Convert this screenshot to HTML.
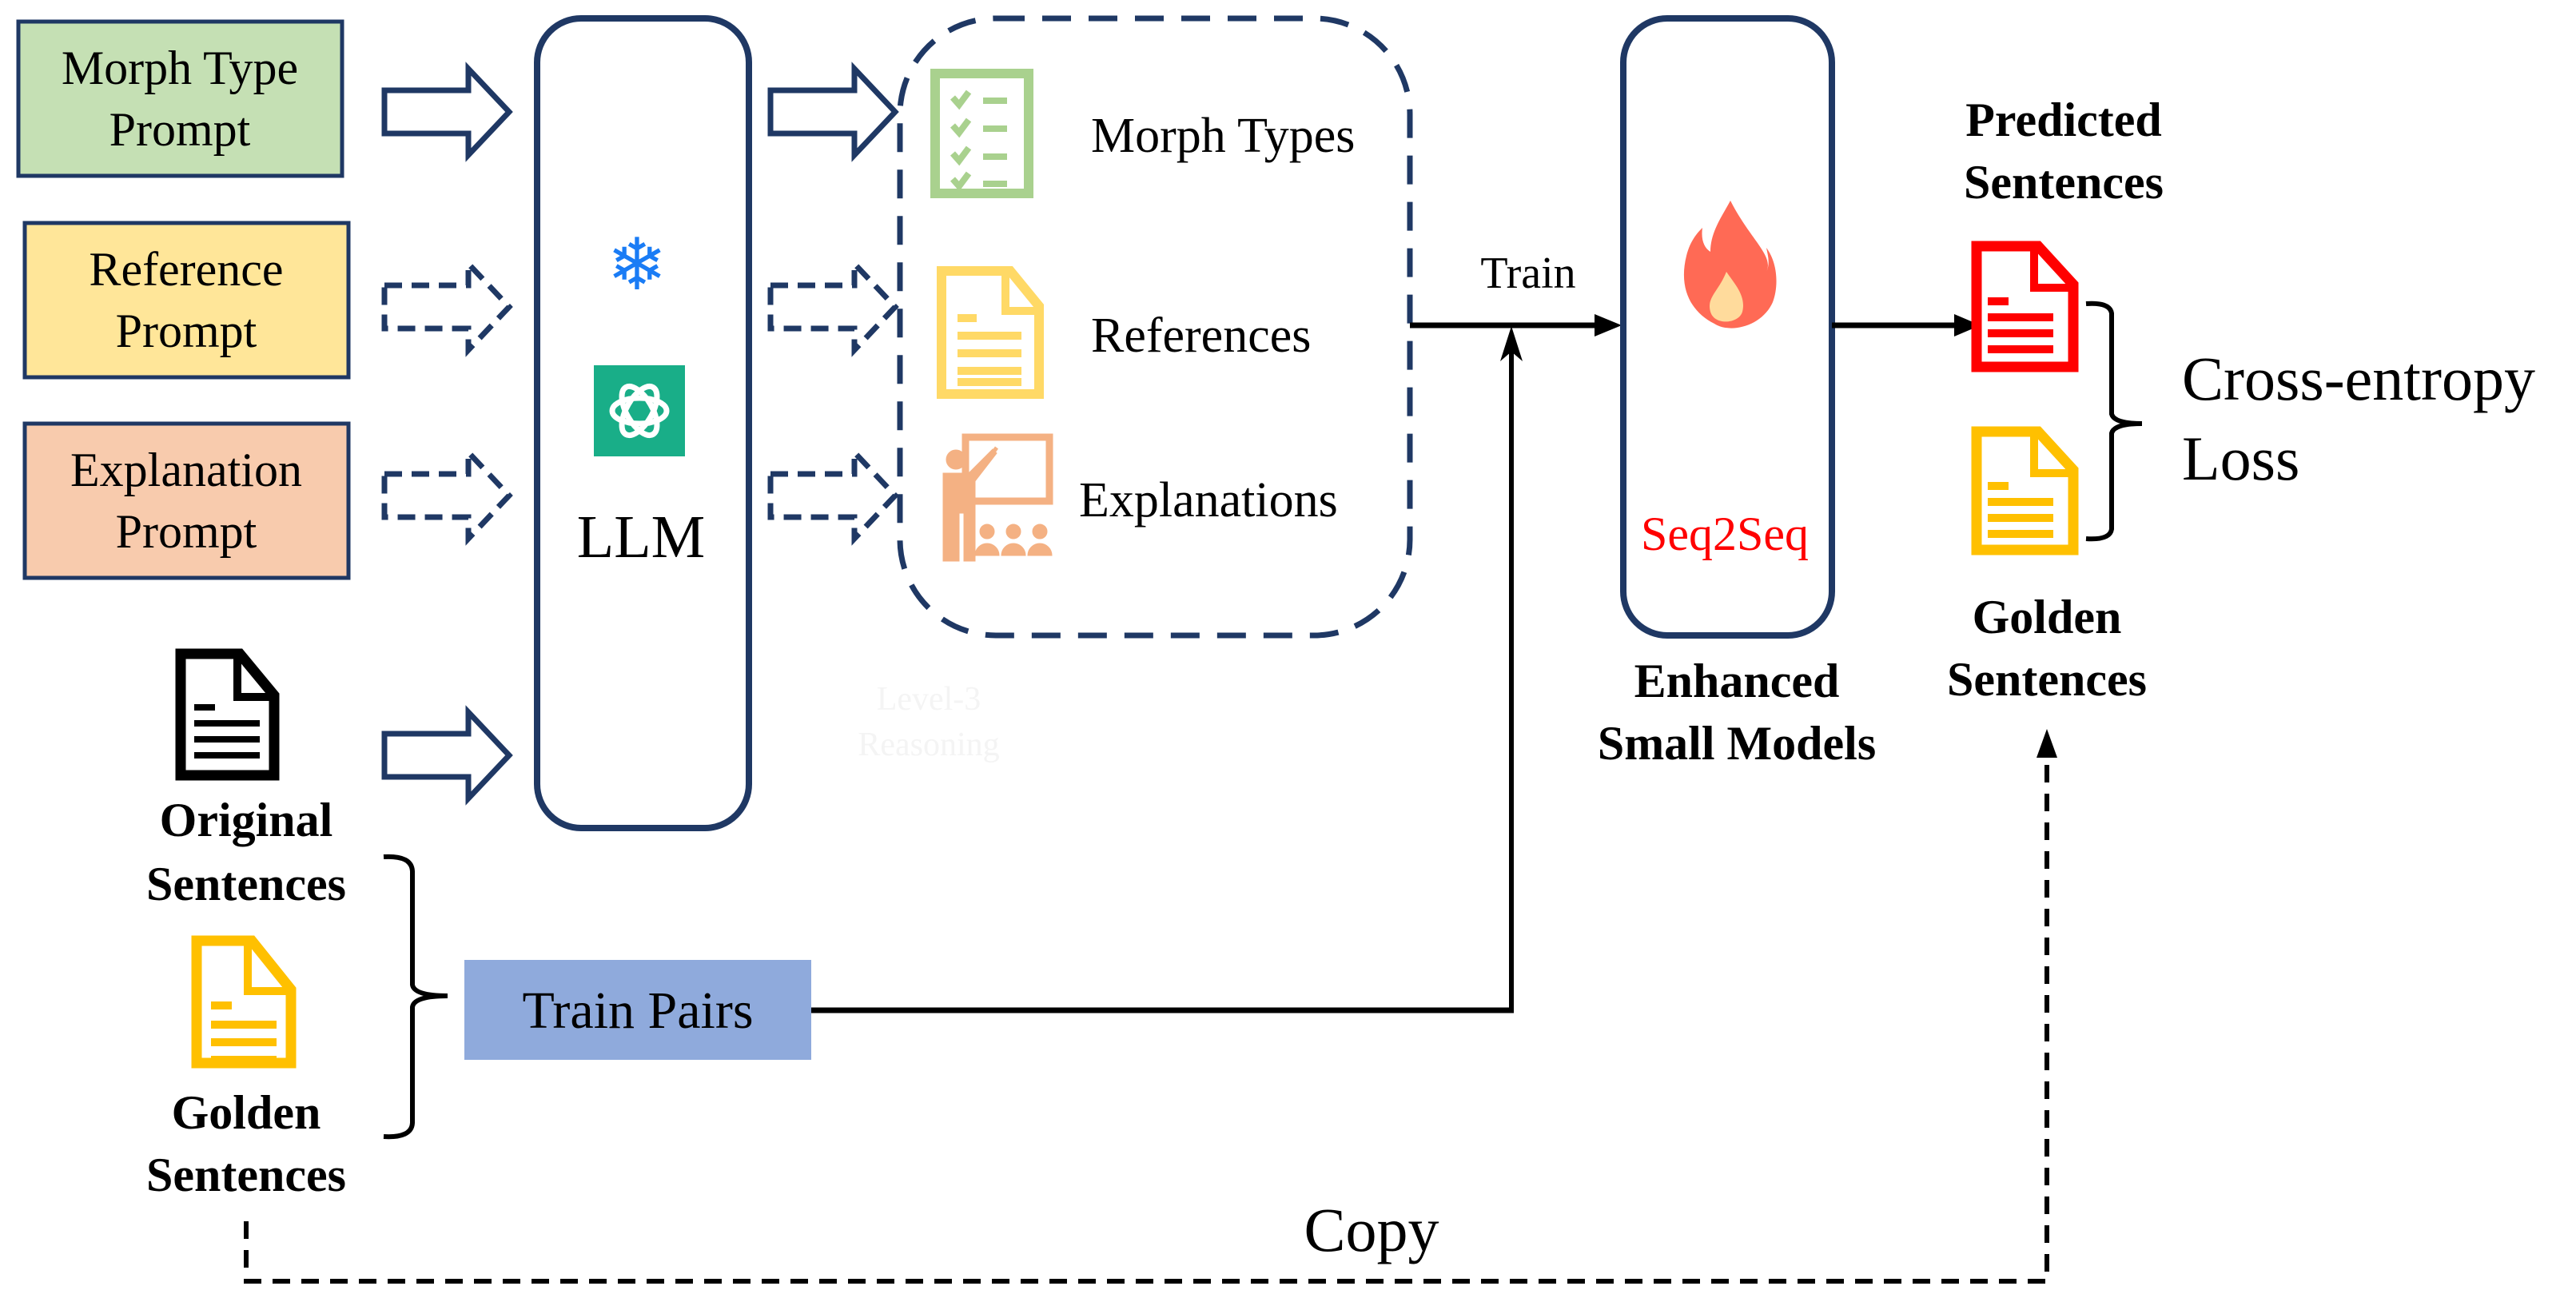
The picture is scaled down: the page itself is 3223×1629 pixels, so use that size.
<!DOCTYPE html>
<html><head><meta charset="utf-8"><style>
html,body{margin:0;padding:0;background:#fff;}
svg{display:block;}
svg text{font-family:"Liberation Serif","Times New Roman",Times,serif;}
</style></head><body>
<svg width="3223" height="1629" viewBox="0 0 3223 1629" xmlns="http://www.w3.org/2000/svg" font-family="Liberation Serif, Times New Roman, serif">
<!-- prompt boxes -->
<rect x="23" y="27" width="405" height="193" fill="#c5e0b4" stroke="#1f3864" stroke-width="5"/>
<text x="225" y="105" font-size="60" text-anchor="middle">Morph Type</text>
<text x="225" y="182" font-size="60" text-anchor="middle">Prompt</text>
<rect x="31" y="279" width="405" height="193" fill="#ffe699" stroke="#1f3864" stroke-width="5"/>
<text x="233" y="357" font-size="60" text-anchor="middle">Reference</text>
<text x="233" y="434" font-size="60" text-anchor="middle">Prompt</text>
<rect x="31" y="530" width="405" height="193" fill="#f8cbad" stroke="#1f3864" stroke-width="5"/>
<text x="233" y="608" font-size="60" text-anchor="middle">Explanation</text>
<text x="233" y="685" font-size="60" text-anchor="middle">Prompt</text>

<!-- arrows -->
<g fill="#fff" stroke="#1f3864" stroke-width="7" stroke-linejoin="miter">
<path d="M481,113 L586,113 L586,86 L637,140 L586,194 L586,167 L481,167 Z"/>
<path d="M964,113 L1069,113 L1069,86 L1120,140 L1069,194 L1069,167 L964,167 Z"/>
<path d="M481,918 L586,918 L586,891 L637,945 L586,999 L586,972 L481,972 Z"/>
</g>
<g fill="#fff" stroke="#1f3864" stroke-width="7" stroke-dasharray="22,12">
<path d="M481,357 L586,357 L586,330 L637,384 L586,438 L586,411 L481,411 Z"/>
<path d="M964,357 L1069,357 L1069,330 L1120,384 L1069,438 L1069,411 L964,411 Z"/>
<path d="M481,593 L586,593 L586,566 L637,620 L586,674 L586,647 L481,647 Z"/>
<path d="M964,593 L1069,593 L1069,566 L1120,620 L1069,674 L1069,647 L964,647 Z"/>
</g>

<!-- LLM box -->
<rect x="672" y="23" width="265" height="1013" rx="55" fill="#fff" stroke="#1f3864" stroke-width="8"/>
<text x="797" y="362" font-size="90" text-anchor="middle" fill="#1a7cf5">❄</text>
<rect x="743" y="457" width="114" height="114" fill="#19ae88"/>
<g fill="none" stroke="#fff" stroke-width="7">
<ellipse cx="800" cy="514" rx="34" ry="16"/>
<ellipse cx="800" cy="514" rx="34" ry="16" transform="rotate(60 800 514)"/>
<ellipse cx="800" cy="514" rx="34" ry="16" transform="rotate(-60 800 514)"/>
</g>
<text x="802" y="697" font-size="76" text-anchor="middle">LLM</text>

<!-- dashed outputs box -->
<rect x="1126" y="23" width="638" height="772" rx="120" fill="none" stroke="#1f3864" stroke-width="7" stroke-dasharray="36,22"/>
<rect x="1170" y="92" width="117" height="150" fill="#fff" stroke="#a9d18e" stroke-width="12"/>
<g stroke="#a9d18e" stroke-width="8" fill="none">
<path d="M1192,122 l8,9 l12,-16"/><path d="M1192,157 l8,9 l12,-16"/><path d="M1192,192 l8,9 l12,-16"/><path d="M1192,224 l8,9 l12,-16"/>
<path d="M1230,126 h30"/><path d="M1230,161 h30"/><path d="M1230,196 h30"/><path d="M1230,230 h30"/>
</g>
<text x="1365" y="190" font-size="62">Morph Types</text>
<path d="M1178,339 L1264,339 L1300,383 L1300,493 L1178,493 Z" fill="#fff" stroke="#ffd966" stroke-width="12"/>
<path d="M1258,339 L1258,389 L1300,389" fill="none" stroke="#ffd966" stroke-width="10"/>
<g stroke="#ffd966" stroke-width="10"><path d="M1198,398 h24"/><path d="M1198,420 h80"/><path d="M1198,442 h80"/><path d="M1198,464 h80"/><path d="M1198,478 h80"/></g>
<text x="1365" y="440" font-size="62">References</text>
<g fill="#f4b183" stroke="#f4b183">
<rect x="1208" y="547" width="105" height="80" fill="none" stroke-width="9"/>
<circle cx="1196" cy="575" r="12"/>
<path d="M1180,592 h32 l30,-30 l5,5 l-27,35 v100 h-14 v-60 h-6 v60 h-20 v-60 Z"/>
<path d="M1247,560 l-35,48" stroke-width="5" fill="none"/>
<circle cx="1235" cy="665" r="9"/><circle cx="1268" cy="665" r="9"/><circle cx="1301" cy="665" r="9"/>
<path d="M1220,695 a15,15 0 0 1 30,0 Z M1253,695 a15,15 0 0 1 30,0 Z M1286,695 a15,15 0 0 1 30,0 Z"/>
</g>
<text x="1350" y="646" font-size="62">Explanations</text>
<text x="1162" y="888" font-size="42" text-anchor="middle" fill="#f4f4f4">Level-3</text>
<text x="1162" y="945" font-size="42" text-anchor="middle" fill="#f4f4f4">Reasoning</text>

<!-- train line -->
<line x1="1764" y1="407" x2="2000" y2="407" stroke="#000" stroke-width="7"/>
<path d="M1995,393 L2029,407 L1995,421 Z" fill="#000"/>
<line x1="1891" y1="1264" x2="1891" y2="440" stroke="#000" stroke-width="6"/>
<path d="M1877,452 L1891,408 L1905,452 L1891,440 Z" fill="#000"/>
<text x="1912" y="360" font-size="56" text-anchor="middle">Train</text>

<!-- seq2seq -->
<rect x="2031" y="23" width="261" height="772" rx="55" fill="#fff" stroke="#1f3864" stroke-width="8"/>
<path d="M2165,251 C2190,300 2220,320 2210,340 C2215,330 2212,320 2210,310 C2225,330 2225,360 2218,378 C2205,408 2165,418 2145,405 C2115,390 2100,360 2110,320 C2115,300 2125,290 2130,285 C2128,300 2132,310 2140,315 C2140,290 2155,270 2165,251 Z" fill="#ff6a55"/>
<path d="M2160,340 C2170,355 2185,370 2180,390 C2176,405 2145,408 2140,390 C2135,372 2150,365 2160,340 Z" fill="#ffdb9c"/>
<text x="2158" y="688" font-size="60" text-anchor="middle" fill="#f00">Seq2Seq</text>
<text x="2173" y="872" font-size="60" font-weight="bold" text-anchor="middle">Enhanced</text>
<text x="2173" y="950" font-size="60" font-weight="bold" text-anchor="middle">Small Models</text>

<line x1="2292" y1="407" x2="2450" y2="407" stroke="#000" stroke-width="7"/>
<path d="M2445,393 L2478,407 L2445,421 Z" fill="#000"/>

<text x="2582" y="170" font-size="60" font-weight="bold" text-anchor="middle">Predicted</text>
<text x="2582" y="248" font-size="60" font-weight="bold" text-anchor="middle">Sentences</text>
<path d="M2473,308 L2550,308 L2594,356 L2594,459 L2473,459 Z" fill="#fff" stroke="#f00" stroke-width="13"/>
<path d="M2545,308 L2545,360 L2594,360" fill="none" stroke="#f00" stroke-width="10"/>
<g stroke="#f00" stroke-width="10"><path d="M2487,377 h26"/><path d="M2487,397 h82"/><path d="M2487,417 h82"/><path d="M2487,437 h82"/></g>
<path d="M2473,540 L2550,540 L2594,588 L2594,688 L2473,688 Z" fill="#fff" stroke="#ffc000" stroke-width="13"/>
<path d="M2545,540 L2545,592 L2594,592" fill="none" stroke="#ffc000" stroke-width="10"/>
<g stroke="#ffc000" stroke-width="10"><path d="M2487,608 h26"/><path d="M2487,628 h82"/><path d="M2487,648 h82"/><path d="M2487,668 h82"/></g>
<path d="M2610,380 Q2640,378 2642,392 L2642,518 Q2645,530 2680,530 Q2645,530 2642,542 L2642,662 Q2640,676 2610,674" fill="none" stroke="#000" stroke-width="6"/>
<text x="2730" y="500" font-size="78">Cross-entropy</text>
<text x="2730" y="600" font-size="78">Loss</text>
<text x="2561" y="792" font-size="60" font-weight="bold" text-anchor="middle">Golden</text>
<text x="2561" y="870" font-size="60" font-weight="bold" text-anchor="middle">Sentences</text>

<!-- copy dashed -->
<path d="M308,1528 L308,1603 L2561,1603 L2561,930" fill="none" stroke="#000" stroke-width="6" stroke-dasharray="22,14"/>
<path d="M2548,948 L2561,912 L2574,948 Z" fill="#000"/>
<text x="1716" y="1565" font-size="78" text-anchor="middle">Copy</text>

<!-- original doc -->
<path d="M226,818 L300,818 L343,870 L343,970 L226,970 Z" fill="#fff" stroke="#000" stroke-width="13"/>
<path d="M297,818 L297,872 L343,872" fill="none" stroke="#000" stroke-width="10"/>
<g stroke="#000" stroke-width="8"><path d="M243,885 h26"/><path d="M243,905 h82"/><path d="M243,925 h82"/><path d="M243,945 h82"/></g>
<text x="308" y="1046" font-size="60" font-weight="bold" text-anchor="middle">Original</text>
<text x="308" y="1126" font-size="60" font-weight="bold" text-anchor="middle">Sentences</text>
<path d="M246,1177 L315,1177 L364,1238 L364,1330 L246,1330 Z" fill="#fff" stroke="#ffc000" stroke-width="13"/>
<path d="M310,1177 L310,1240 L364,1240" fill="none" stroke="#ffc000" stroke-width="10"/>
<g stroke="#ffc000" stroke-width="10"><path d="M264,1258 h26"/><path d="M264,1282 h82"/><path d="M264,1304 h82"/><path d="M264,1326 h82"/></g>
<text x="308" y="1412" font-size="60" font-weight="bold" text-anchor="middle">Golden</text>
<text x="308" y="1490" font-size="60" font-weight="bold" text-anchor="middle">Sentences</text>
<path d="M480,1072 Q515,1070 516,1090 L516,1232 Q518,1246 560,1246 Q518,1246 516,1260 L516,1405 Q515,1424 480,1422" fill="none" stroke="#000" stroke-width="6"/>

<rect x="581" y="1201" width="434" height="125" fill="#8faadc"/>
<text x="798" y="1286" font-size="66" text-anchor="middle">Train Pairs</text>
<line x1="1015" y1="1264" x2="1894" y2="1264" stroke="#000" stroke-width="7"/>
</svg>
</body></html>
